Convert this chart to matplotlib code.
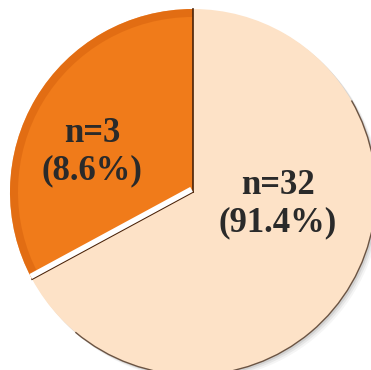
import numpy as np
import matplotlib.pyplot as plt
from matplotlib.patches import Wedge, Arc, Circle

# --- Data ---
labels = ["n=3\n(8.6%)", "n=32\n(91.4%)"]
# slice sizes as they are drawn in the picture (the drawn angles do not follow the counts)
shares = [32.9, 67.1]
colors = ["#F07B1A", "#FDE2C7"]

fig = plt.figure(figsize=(3.71, 3.70), dpi=100)
ax = fig.add_axes([0, 0, 1, 1])

cx, cy, r = 193, 178, 183

# soft shadow behind the pie
for off, a in [(5, 0.05), (3.5, 0.08), (2, 0.12)]:
    ax.add_patch(Circle((cx + off, cy - off), r, color="#404040", alpha=a, lw=0))

wedges, _ = ax.pie(shares, colors=colors, startangle=90, counterclock=True,
                   center=(cx, cy), radius=r, frame=True,
                   wedgeprops=dict(linewidth=0))
ax.set_xlim(0, 371)
ax.set_ylim(0, 370)
ax.axis("off")

# darker rim on the orange slice for a bevelled look
w0 = wedges[0]
ax.add_patch(Wedge((cx, cy), r, w0.theta1, w0.theta2, width=8,
                   color="#D9650F", lw=0, alpha=0.6))
# thin dark outer edge on the pie
ax.add_patch(Arc((cx, cy), 2 * r, 2 * r, theta1=230, theta2=30, color="#6b5443", lw=1.0))

# slice borders: dark line on the orange side, white highlight on the peach side
for ang in [w0.theta1, w0.theta2]:
    t = np.deg2rad(ang)
    ax.plot([cx, cx + r * np.cos(t)], [cy, cy + r * np.sin(t)], color="#4a2208", lw=1.2)
t = np.deg2rad(w0.theta2)
nx, ny = np.sin(t), -np.cos(t)
ax.plot([cx + 3 * nx, cx + r * np.cos(t) + 3 * nx], [cy + 3 * ny, cy + r * np.sin(t) + 3 * ny],
        color="white", lw=4, solid_capstyle="butt")

txt_kw = dict(ha="center", va="center", family="Liberation Serif", fontweight="bold",
              fontsize=25, color="#2a2a2a", linespacing=1.15)
ax.text(92, 218, labels[0], **txt_kw)
ax.text(278, 166, labels[1], **txt_kw)

fig.savefig("out.png", dpi=100)
